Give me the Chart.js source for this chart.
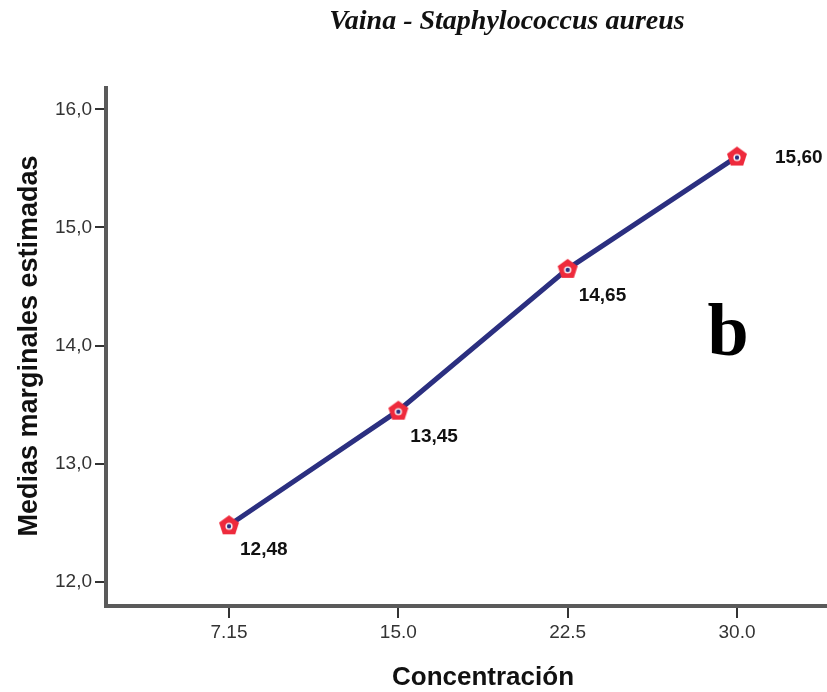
<!DOCTYPE html>
<html>
<head>
<meta charset="utf-8">
<script src="https://cdn.jsdelivr.net/npm/chart.js@4.4.0/dist/chart.umd.min.js"></script>
<style>
    body { margin: 0; background: #fff; }
    #chart { display: block; }
</style>
</head>
<body>
<canvas id="chart" width="827" height="692"></canvas>
<script>
const concentrations = ["7.15", "15.0", "22.5", "30.0"];
const positions = [1, 2, 3, 4];
const means = [12.48, 13.45, 14.65, 15.60];
const meanLabels = ["12,48", "13,45", "14,65", "15,60"];
const yTicks = [12, 13, 14, 15, 16];

const chartTitle = "Vaina - Staphylococcus aureus";
const xTitle = "Concentración";
const yTitle = "Medias marginales estimadas";
const panelLetter = "b";

// red pentagon marker with a small navy dot in the middle
function makeMarker() {
    const c = document.createElement("canvas");
    c.width = 24;
    c.height = 24;
    const g = c.getContext("2d");
    const r = 10.5;
    g.beginPath();
    for (let i = 0; i < 5; i++) {
        const a = -Math.PI / 2 + i * 2 * Math.PI / 5;
        const px = 12 + r * Math.cos(a);
        const py = 12.5 + r * Math.sin(a);
        if (i === 0) g.moveTo(px, py); else g.lineTo(px, py);
    }
    g.closePath();
    g.fillStyle = "#ee2a3c";
    g.fill();
    g.beginPath();
    g.arc(12, 13, 3.6, 0, Math.PI * 2);
    g.fillStyle = "#ffffff";
    g.fill();
    g.beginPath();
    g.arc(12, 13, 2.2, 0, Math.PI * 2);
    g.fillStyle = "#2b2f80";
    g.fill();
    return c;
}

const labelOffsets = [[11, 24], [12, 26], [11, 27], [38, 1]];

const textPlugin = {
    id: "textPlugin",
    afterDraw(chart) {
        const { ctx } = chart;
        ctx.save();
        ctx.fillStyle = "#111";

        // value labels next to each point
        const meta = chart.getDatasetMeta(0);
        ctx.font = "bold 19px 'Liberation Sans', Arial, sans-serif";
        ctx.textAlign = "left";
        ctx.textBaseline = "middle";
        meta.data.forEach((pt, i) => {
            ctx.fillText(meanLabels[i], pt.x + labelOffsets[i][0], pt.y + labelOffsets[i][1]);
        });

        // title
        ctx.font = "italic bold 28px 'Liberation Serif', 'Times New Roman', serif";
        ctx.textAlign = "center";
        ctx.textBaseline = "alphabetic";
        ctx.fillText(chartTitle, 507, 29);

        // axis titles
        ctx.font = "bold 26px 'Liberation Sans', Arial, sans-serif";
        ctx.textBaseline = "middle";
        ctx.fillText(xTitle, 483, 678);
        ctx.font = "bold 27px 'Liberation Sans', Arial, sans-serif";
        ctx.save();
        ctx.translate(30, 346);
        ctx.rotate(-Math.PI / 2);
        ctx.fillText(yTitle, 0, 0);
        ctx.restore();

        // panel letter
        ctx.font = "bold 74px 'Liberation Serif', 'Times New Roman', serif";
        ctx.textBaseline = "alphabetic";
        ctx.fillStyle = "#000";
        ctx.fillText(panelLetter, 728, 355);
        ctx.restore();
    }
};

new Chart(document.getElementById("chart"), {
    type: "line",
    data: {
        datasets: [{
            data: positions.map((x, i) => ({ x: x, y: means[i] })),
            borderColor: "#2b2f80",
            borderWidth: 5,
            tension: 0,
            pointStyle: makeMarker(),
            pointRadius: 10,
            clip: false
        }]
    },
    options: {
        responsive: false,
        animation: false,
        layout: {
            autoPadding: false,
            padding: { top: 88, left: 0, right: 0, bottom: 0 }
        },
        plugins: {
            legend: { display: false },
            tooltip: { enabled: false }
        },
        scales: {
            x: {
                type: "linear",
                min: 0.2736,
                max: 4.5315,
                afterFit: (axis) => {
                    axis.height = 86;
                    axis.paddingLeft = 0;
                    axis.paddingRight = 0;
                },
                afterBuildTicks: (axis) => {
                    axis.ticks = positions.map(v => ({ value: v }));
                },
                border: {
                    color: "#5a5a5a",
                    width: 4
                },
                grid: {
                    drawOnChartArea: false,
                    color: "#333",
                    lineWidth: 2,
                    tickLength: 12
                },
                ticks: {
                    color: "#333",
                    padding: 3,
                    font: { size: 19, family: "'Liberation Sans', Arial, sans-serif" },
                    callback: (v) => concentrations[positions.indexOf(v)]
                }
            },
            y: {
                min: 11.797,
                max: 16.18,
                afterFit: (axis) => {
                    axis.width = 106;
                    axis.paddingTop = 0;
                    axis.paddingBottom = 0;
                },
                afterBuildTicks: (axis) => {
                    axis.ticks = yTicks.map(v => ({ value: v }));
                },
                border: {
                    color: "#5a5a5a",
                    width: 4
                },
                grid: {
                    drawOnChartArea: false,
                    color: "#333",
                    lineWidth: 2,
                    tickLength: 11
                },
                ticks: {
                    color: "#333",
                    padding: 3,
                    font: { size: 19, family: "'Liberation Sans', Arial, sans-serif" },
                    callback: (v) => v.toFixed(1).replace(".", ",")
                }
            }
        }
    },
    plugins: [textPlugin]
});
</script>
</body>
</html>
